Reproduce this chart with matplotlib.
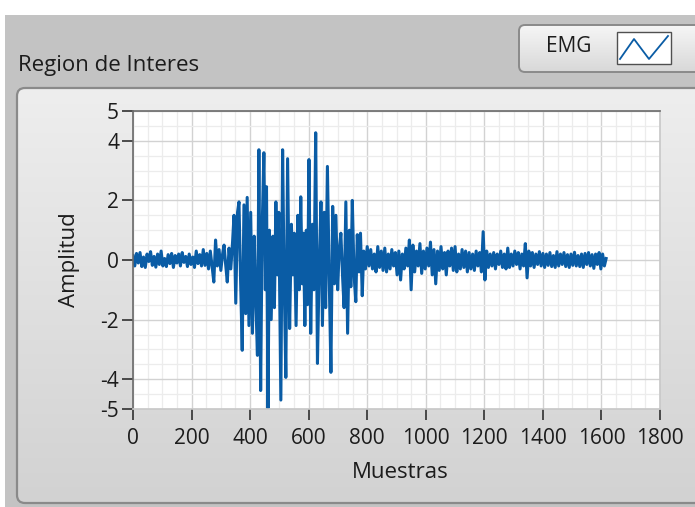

# Grafica EMG - Region de Interes (estilo panel LabVIEW)

import numpy as np
import matplotlib.pyplot as plt
from matplotlib.colors import LinearSegmentedColormap
from matplotlib.patches import Rectangle, FancyBboxPatch
from matplotlib.lines import Line2D
from matplotlib.ticker import MultipleLocator

plt.rcParams["axes.unicode_minus"] = False

# ---- datos ----
# ruido de reposo, una muestra cada 6 (0 .. 252)
ruido_inicio = [0.15, -0.2, 0.22, -0.1, 0.25, -0.22, 0.1, -0.25, 0.2, -0.05,
                0.28, -0.18, 0.12, -0.24, 0.2, -0.15, 0.3, -0.2, 0.05, -0.22,
                0.18, -0.12, 0.22, -0.25, 0.15, -0.1, 0.2, -0.2, 0.25, -0.08,
                0.12, -0.22, 0.2, -0.15, 0.1, -0.25, 0.3, -0.12, 0.18, -0.2,
                0.35, -0.18, 0.22]

# rafaga de activacion (puntos de giro)
rafaga_muestras = [258, 264, 270, 276, 282, 288, 294, 300, 306, 311,
                   316, 322, 328, 334, 340, 345, 351, 357, 362, 367,
                   373, 379, 385, 390, 396, 402, 408, 414, 419, 425,
                   430, 436, 441, 447, 452, 456, 461, 466, 472, 478,
                   483, 488, 493, 498, 505, 511, 516, 522, 528, 535,
                   541, 546, 551, 557, 563, 568, 573, 578, 582, 587,
                   592, 596, 601, 607, 613, 618, 624, 630, 636, 642,
                   647, 653, 658, 664, 670, 676, 682, 688, 693, 699,
                   704, 710, 716, 721, 727, 733, 739, 744, 749, 755,
                   761, 766, 772, 777, 783, 788, 794, 800]
rafaga_amplitud = [-0.3, 0.3, -0.2, -0.74, 0.67, -0.2, 0.35, -0.35, 0.2, 0.5,
                   -0.1, -0.74, 0.4, -0.3, 0.6, 1.5, -1.45, 1.6, 1.95, -0.5,
                   -3.03, 1.85, -1.8, 2.1, -2.2, 1.6, -2.46, 0.8, -1.2, -3.2,
                   3.7, -4.38, 1.0, 3.6, -1.0, 2.46, -4.98, 1.0, -2.0, 0.8,
                   -1.6, 1.95, -0.5, 1.6, -4.7, 3.7, -0.5, -3.94, 3.4, -2.3,
                   1.2, -0.5, 0.9, -2.2, 1.5, -1.0, 2.12, -0.8, 0.9, -2.2,
                   1.0, -1.5, 3.37, -2.46, 1.2, -1.0, 4.27, -3.47, -0.2, 1.95,
                   -2.2, 1.6, -1.6, 3.14, -0.5, -3.77, 1.8, -0.8, 1.5, -1.0,
                   0.3, 0.9, -0.6, -1.6, 1.95, -2.46, 1.0, -0.9, 2.0, -0.5,
                   -1.4, 0.85, -0.4, 0.9, -1.2, 0.3, -0.3, 0.45]

# cola de la senal, una muestra cada 6 (806 .. 1616)
ruido_final = [-0.2, 0.35, -0.3, 0.2, -0.4, 0.45, -0.25, 0.3, -0.35, 0.4,
               -0.4, 0.2, -0.3, 0.35, -0.2, 0.25, -0.5, 0.3, -0.67, 0.2,
               -0.3, 0.4, -0.2, 0.67, -1.0, 0.5, -0.4, 0.3, -0.2, 0.55,
               -0.45, 0.3, -0.3, 0.4, -0.2, 0.6, -0.5, 0.35, -0.8, 0.3,
               -0.35, 0.45, -0.3, 0.25, -0.5, 0.3, -0.2, 0.4, -0.35, 0.45,
               -0.4, 0.2, -0.3, 0.35, -0.25, 0.3, -0.4, 0.25, -0.3, 0.2,
               -0.35, 0.3, -0.2, 0.25, -0.4, 0.95, -0.67, 0.3, -0.25, 0.2,
               -0.2, 0.25, -0.3, 0.2, -0.15, 0.3, -0.25, 0.2, -0.3, 0.4,
               -0.25, 0.2, -0.2, 0.3, -0.15, 0.25, -0.3, 0.2, -0.2, 0.55,
               -0.6, 0.3, -0.2, 0.25, -0.25, 0.2, -0.15, 0.28, -0.2, 0.22,
               -0.25, 0.2, -0.18, 0.25, -0.22, 0.15, -0.25, 0.28, -0.2, 0.2,
               -0.15, 0.25, -0.22, 0.18, -0.25, 0.2, -0.18, 0.26, -0.2, 0.15,
               -0.22, 0.2, -0.25, 0.22, -0.15, 0.25, -0.2, 0.18, -0.28, 0.2,
               -0.15, 0.25, -0.3, 0.2, -0.2, 0.05]

muestras = list(range(0, 253, 6)) + rafaga_muestras + list(range(806, 1617, 6))
amplitud = ruido_inicio + rafaga_amplitud + ruido_final

x_ticks = [0, 200, 400, 600, 800, 1000, 1200, 1400, 1600, 1800]
y_ticks = [-5, -4, -2, 0, 2, 4, 5]

W, H = 695, 507
FONT = "Open Sans"
TXT = "#1c1c1c"
AZUL = "#0a5ca5"

fig = plt.figure(figsize=(W / 100, H / 100), dpi=100)
fig.patch.set_facecolor("white")

# capa de fondo en coordenadas de pixel
bg = fig.add_axes([0, 0, 1, 1], zorder=0)
bg.axis("off")
bg.add_patch(Rectangle((5, 15), 700, 500, facecolor="#c3c3c3", edgecolor="none", zorder=0))

grad = np.linspace(0, 1, 256).reshape(-1, 1)

# marco del grafico con degradado
marco = FancyBboxPatch((17, 88), 700, 415, boxstyle="round,pad=0,rounding_size=8",
                       facecolor="none", edgecolor="#8a8a8a", linewidth=1.6, zorder=2)
bg.add_patch(marco)
img = bg.imshow(grad, extent=[17, 717, 503, 88], aspect="auto", zorder=1,
                cmap=LinearSegmentedColormap.from_list("g", ["#eeeeee", "#d2d2d2"]))
img.set_clip_path(marco)

# caja de leyenda
caja = FancyBboxPatch((519, 25), 200, 47, boxstyle="round,pad=0,rounding_size=6",
                      facecolor="none", edgecolor="#8a8a8a", linewidth=1.4, zorder=2)
bg.add_patch(caja)
img2 = bg.imshow(grad, extent=[519, 719, 72, 25], aspect="auto", zorder=1,
                 cmap=LinearSegmentedColormap.from_list("g2", ["#f6f6f6", "#d8d8d8"]))
img2.set_clip_path(caja)
bg.add_patch(Rectangle((617, 32), 54, 32, facecolor="white", edgecolor="#505050",
                       linewidth=1.0, zorder=3))
bg.add_line(Line2D([620, 634, 649, 668], [59, 39, 59, 36], color=AZUL, linewidth=1.3, zorder=4))
bg.text(569, 47, "EMG", fontsize=15, family=FONT, color=TXT, ha="center", va="center", zorder=4)

# titulo
bg.text(18, 65, "Region de Interes", fontsize=16, family=FONT, color=TXT,
        ha="left", va="center", zorder=4)

bg.set_xlim(0, W)
bg.set_ylim(H, 0)

# ---- grafica ----
ax = fig.add_axes([133 / W, 1 - 409 / H, (660 - 133) / W, (409 - 111) / H], zorder=2)
ax.set_facecolor("white")
ax.plot(muestras, amplitud, color=AZUL, linewidth=2.2, solid_joinstyle="round")

ax.set_xlim(0, 1800)
ax.set_ylim(-5, 5)
ax.set_xticks(x_ticks)
ax.set_yticks(y_ticks)
ax.xaxis.set_minor_locator(MultipleLocator(50))
ax.yaxis.set_minor_locator(MultipleLocator(0.5))
ax.grid(which="major", color="#d2d2d2", linewidth=1.0)
ax.grid(which="minor", color="#ececec", linewidth=0.9)
ax.set_axisbelow(True)

ax.tick_params(which="minor", length=0)
ax.tick_params(which="major", direction="out", length=8, width=1.2, color="#303030",
               labelsize=15, labelcolor=TXT)
ax.tick_params(axis="x", pad=6)
ax.tick_params(axis="y", pad=2)
for lbl in ax.get_xticklabels() + ax.get_yticklabels():
    lbl.set_family(FONT)

ax.spines["left"].set_color("#6a6a6a")
ax.spines["top"].set_color("#6a6a6a")
ax.spines["right"].set_color("#c8c8c8")
ax.spines["bottom"].set_color("#c8c8c8")
for s in ax.spines.values():
    s.set_linewidth(1.2)

ax.set_xlabel("Muestras", fontsize=16, family=FONT, color=TXT, va="center")
ax.set_ylabel("Amplitud", fontsize=16, family=FONT, color=TXT, va="center")
ax.xaxis.set_label_coords(0.507, -0.213)
ax.yaxis.set_label_coords(-0.12, 0.5)

fig.savefig("out.png", dpi=100)
